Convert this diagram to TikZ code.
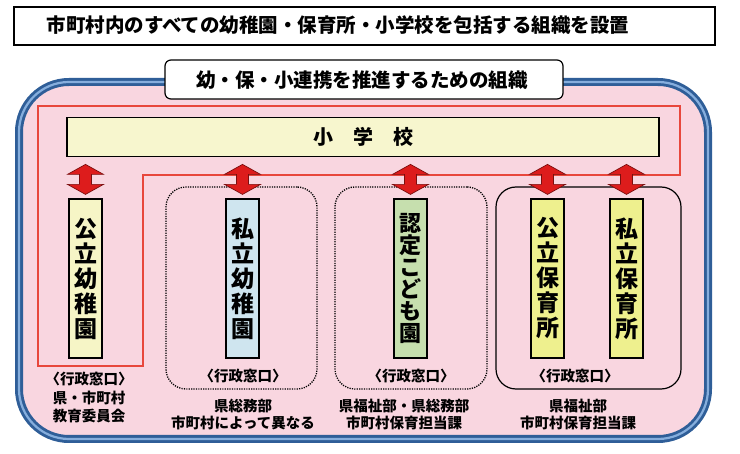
\documentclass[tikz,border=0pt]{standalone}
\usepackage{fontspec}
\setmainfont{Noto Sans CJK JP}
\usetikzlibrary{calc}
\definecolor{pinkbg}{HTML}{F9D6E0}
\definecolor{bluedark}{HTML}{2F5E98}
\definecolor{bluelight}{HTML}{86AEDD}
\definecolor{redline}{HTML}{E8473C}
\definecolor{arrred}{HTML}{DD1C1C}
\definecolor{arrdark}{HTML}{7A0E0E}
\definecolor{schoolfill}{HTML}{F7F6CE}
\definecolor{ylight}{HTML}{F6F5C6}
\definecolor{bluefill}{HTML}{CFE5EF}
\definecolor{greenfill}{HTML}{C6DFAE}
\definecolor{yfill}{HTML}{EEF08E}
\tikzset{
  titlebox/.style={draw=black, line width=1.2pt, fill=white, inner sep=0pt},
  colbox/.style={draw=black, line width=1.2pt, inner sep=0pt, minimum width=33pt, minimum height=159pt, align=center, font=\bfseries\fontsize{23}{25}\selectfont},
  dotbox/.style={draw=black, line width=1.3pt, dash pattern=on 1.2pt off 1.2pt, rounded corners=20pt, inner sep=0pt, minimum height=202pt},
  solidbox/.style={draw=black, line width=1.2pt, rounded corners=20pt, inner sep=0pt, minimum height=202pt},
  small/.style={align=center, inner sep=0pt, font=\bfseries\fontsize{14.5}{18.5}\selectfont},
  smallb/.style={align=center, inner sep=0pt, font=\bfseries\fontsize{14.5}{17.5}\selectfont},
  fatarrow/.style={fill=arrred, draw=arrdark, line width=0.7pt, line join=miter}
}
\begin{document}
\begin{tikzpicture}[x=1pt, y=-1pt]
\useasboundingbox (0,0) rectangle (740,454);
\fill[white] (0,0) rectangle (740,454);
% top title
\node[titlebox, minimum width=701pt, minimum height=38pt] (topbox) at (364.5,26) {};
\node[inner sep=0pt, font=\bfseries\fontsize{19.5}{22}\selectfont] (toptext) at (338,25) {市町村内のすべての幼稚園・保育所・小学校を包括する組織を設置};
% outer rounded box
\path[fill=pinkbg, rounded corners=50pt] (19,82) rectangle (708,439);
\draw[bluedark, line width=8pt, rounded corners=50pt] (19,82) rectangle (708,439);
\draw[bluelight, line width=2.2pt, rounded corners=50pt] (19,82) rectangle (708,439);
% subtitle
\node[titlebox, rounded corners=6pt, minimum width=398pt, minimum height=39pt] (subbox) at (364,79.5) {};
\node[inner sep=0pt, font=\bfseries\fontsize{19.5}{22}\selectfont] (subtext) at (362,80) {幼・保・小連携を推進するための組織};
% red outline
\draw[redline, line width=2pt] (38,106) -- (680,106) -- (680,175) -- (143,175) -- (143,366) -- (38,366) -- cycle;
% school
\node[draw=black, line width=1.3pt, fill=schoolfill, minimum width=592pt, minimum height=39pt, inner sep=0pt, font=\bfseries\fontsize{20}{22}\selectfont] (school) at (363,137) {小\hspace{20pt}学\hspace{20pt}校};
% group boxes
\node[dotbox, minimum width=151pt] (g1) at (241.5,288) {};
\node[dotbox, minimum width=152pt] (g2) at (411,288) {};
\node[solidbox, minimum width=185pt] (g3) at (588.5,288) {};
% columns
\node[colbox, fill=ylight] (c1) at (85.5,278.5) {公\\立\\幼\\稚\\園};
\node[colbox, fill=bluefill] (c2) at (242.5,278.5) {私\\立\\幼\\稚\\園};
\node[colbox, fill=greenfill, font=\bfseries\fontsize{22}{22}\selectfont] (c3) at (410.5,278.5) {認\\定\\こ\\ど\\も\\園};
\node[colbox, fill=yfill] (c4) at (547.5,278.5) {公\\立\\保\\育\\所};
\node[colbox, fill=yfill] (c5) at (626.5,278.5) {私\\立\\保\\育\\所};
% arrows between school and columns
\foreach \c in {c1,c2,c3,c4,c5}{
  \path[fatarrow] ([yshift=34pt]\c.north) -- +(18,10) -- +(6,10) -- +(6,20) -- +(18,20) -- +(0,30) -- +(-18,20) -- +(-6,20) -- +(-6,10) -- +(-18,10) -- cycle;
}
% labels
\node[small] (l1) at (89,398) {〈行政窓口〉\\県・市町村\\教育委員会};
\node[small] (w1) at (243,376) {〈行政窓口〉};
\node[smallb] (d1) at (243,414.5) {県総務部\\市町村によって異なる};
\node[small] (w2) at (411,376) {〈行政窓口〉};
\node[smallb] (d2) at (404,414.5) {県福祉部・県総務部\\市町村保育担当課};
\node[small] (w3) at (575,376) {〈行政窓口〉};
\node[smallb] (d3) at (578,414.5) {県福祉部\\市町村保育担当課};
\end{tikzpicture}
\end{document}
